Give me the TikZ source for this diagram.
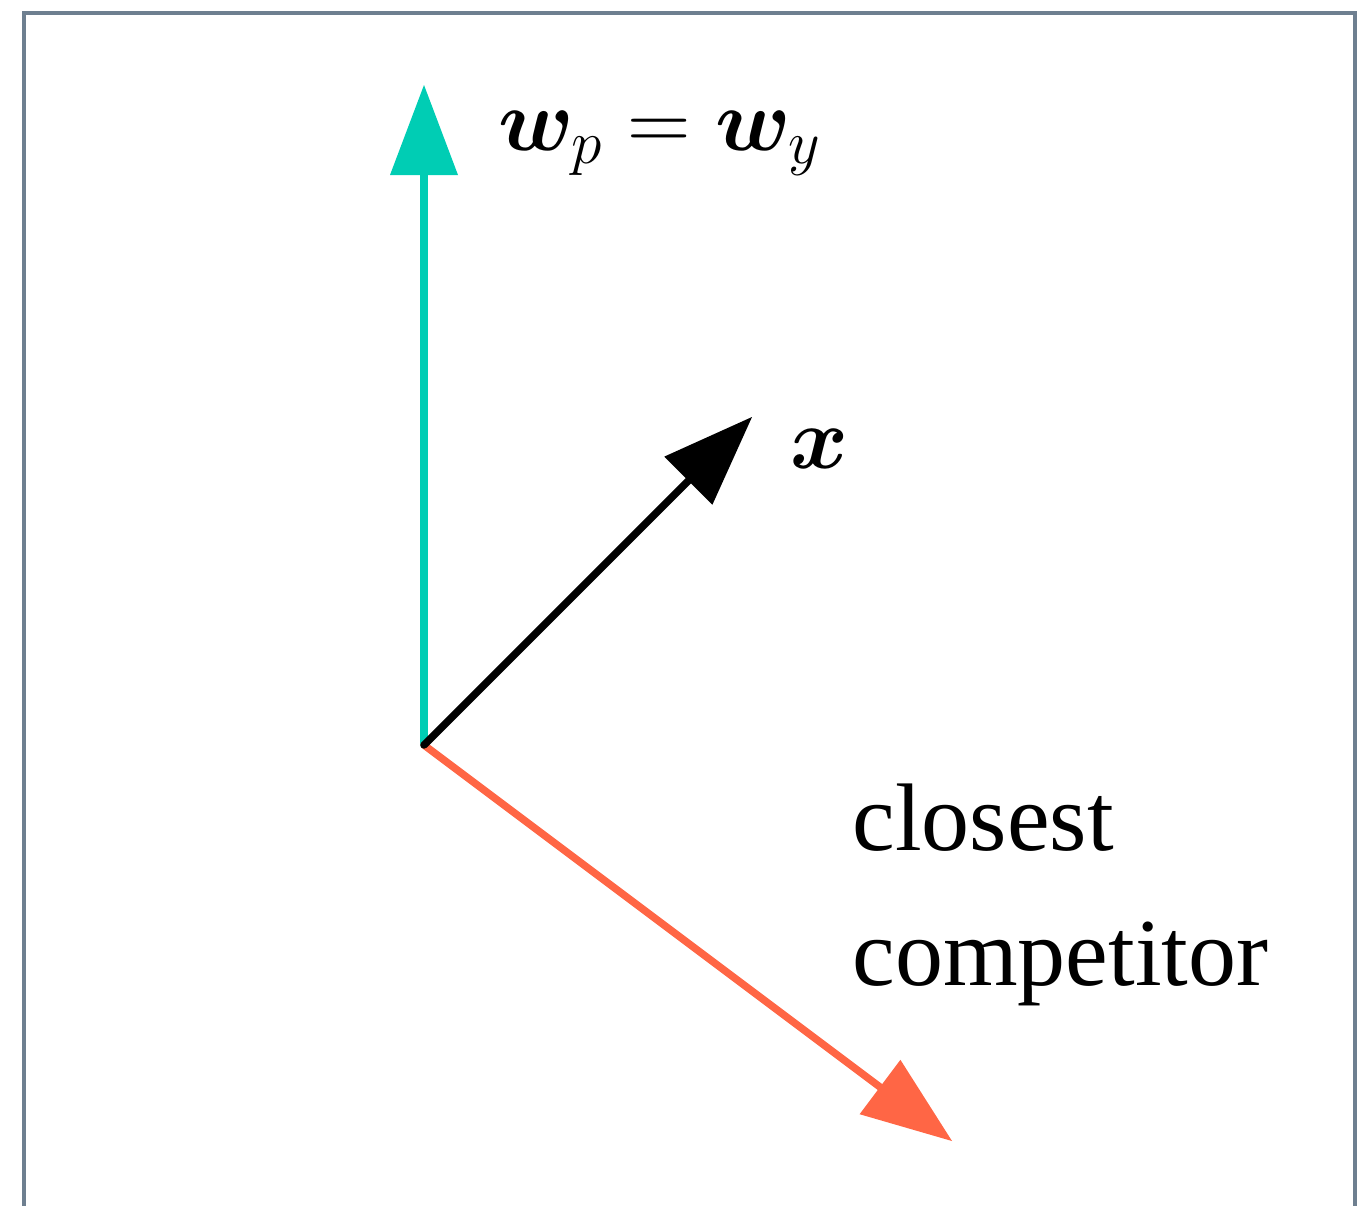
\documentclass[tikz,border=0pt]{standalone}
\usepackage{fix-cm}
\usepackage{fontspec}
\setmainfont{Liberation Serif}
\usepackage{bm}
\usetikzlibrary{arrows.meta}
\definecolor{framecol}{HTML}{6E7F90}
\definecolor{tealcol}{HTML}{00CDB4}
\definecolor{redcol}{HTML}{FF6645}
\begin{document}
\begin{tikzpicture}[x=0.5pt,y=-0.5pt,
  vec/.style={line width=3.7pt, line cap=round, -{Triangle[length=45pt,width=34pt,line width=0pt]}},
  lbl/.style={anchor=base west, inner sep=0pt, font=\fontsize{48}{60}\selectfont},
  mlbl/.style={anchor=base west, inner sep=0pt, font=\fontsize{44}{54}\selectfont}]
\useasboundingbox (0,0) rectangle (1358,1205);
\draw[framecol, line width=1.8pt] (24,1220) -- (24,13) -- (1355,13) -- (1355,1220);
\coordinate (O) at (424,745);
\coordinate (Wt) at (424,85);
\coordinate (Xt) at (752,417);
\coordinate (Ct) at (952,1141);
\draw[vec, tealcol] (O) -- (Wt);
\draw[vec, redcol] (O) -- (Ct);
\draw[vec, black] (O) -- (Xt);
\node[mlbl] (wlabel) at (498,150) {$\bm{w}_p=\bm{w}_y$};
\node[mlbl] (xlabel) at (790,468) {$\bm{x}$};
\node[lbl] (c1) at (852,850) {closest};
\node[lbl] (c2) at (852,985) {competitor};
\end{tikzpicture}
\end{document}
